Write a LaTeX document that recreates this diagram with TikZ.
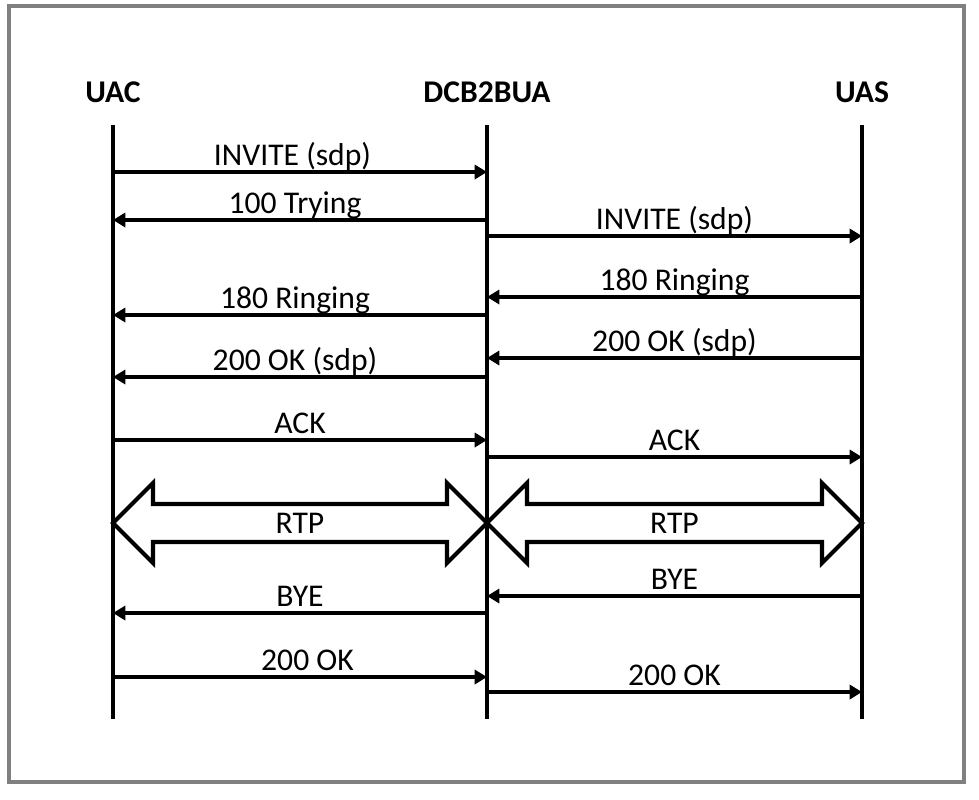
\documentclass[tikz,border=0pt]{standalone}
\usepackage{fontspec}
\setmainfont{Carlito}
\usetikzlibrary{arrows.meta,calc}

\begin{document}
\begin{tikzpicture}[x=0.02cm,y=-0.02cm,>={Triangle[length=7pt,width=8pt]},font=\fontsize{18}{21}\selectfont]
\tikzstyle{head}=[font=\fontsize{18}{21}\selectfont\bfseries,inner sep=0pt]
\tikzstyle{life}=[line width=2.8pt]
\tikzstyle{msg}=[->,line width=2.3pt]
\tikzstyle{lbl}=[above,inner sep=2.4pt,text depth=0pt]
\tikzstyle{rtp}=[line width=2.3pt,miter limit=20]
\useasboundingbox (0,0) rectangle (979,799);
\draw[black!50,line width=2.8pt] (9,6) rectangle (964,782);
% entities and lifelines
\node[head] (uac) at (113,92) {UAC};
\node[head] (b2b) at (487,92) {DCB2BUA};
\node[head] (uas) at (862,92) {UAS};
\draw[life] (uac |- 0,125) -- (uac |- 0,719);
\draw[life] (b2b |- 0,125) -- (b2b |- 0,719);
\draw[life] (uas |- 0,125) -- (uas |- 0,719);
% call setup
\draw[msg] (uac |- 0,172) -- node[lbl,xshift=-0.15cm]{INVITE (sdp)} (b2b |- 0,172);
\draw[msg] (b2b |- 0,220) -- node[lbl,xshift=-0.1cm]{100 Trying} (uac |- 0,220);
\draw[msg] (b2b |- 0,236) -- node[lbl]{INVITE (sdp)} (uas |- 0,236);
\draw[msg] (uas |- 0,297) -- node[lbl]{180 Ringing} (b2b |- 0,297);
\draw[msg] (b2b |- 0,315) -- node[lbl,xshift=-0.1cm]{180 Ringing} (uac |- 0,315);
\draw[msg] (uas |- 0,358) -- node[lbl]{200 OK (sdp)} (b2b |- 0,358);
\draw[msg] (b2b |- 0,377) -- node[lbl,xshift=-0.1cm]{200 OK (sdp)} (uac |- 0,377);
\draw[msg] (uac |- 0,440) -- node[lbl]{ACK} (b2b |- 0,440);
\draw[msg] (b2b |- 0,457) -- node[lbl]{ACK} (uas |- 0,457);
% media
\draw[rtp] (uac |- 0,523) -- ++(40,-40) -- ++(0,21) -- ++(294,0) -- ++(0,-21) -- ++(40,40) -- ++(-40,40) -- ++(0,-21) -- ++(-294,0) -- ++(0,21) -- cycle;
\draw[rtp] (b2b |- 0,523) -- ++(40,-40) -- ++(0,21) -- ++(295,0) -- ++(0,-21) -- ++(40,40) -- ++(-40,40) -- ++(0,-21) -- ++(-295,0) -- ++(0,21) -- cycle;
\node (rtp1) at ($(uac |- 0,523)!0.5!(b2b |- 0,523)$) {RTP};
\node (rtp2) at ($(b2b |- 0,523)!0.5!(uas |- 0,523)$) {RTP};
% teardown
\draw[msg] (uas |- 0,596) -- node[lbl]{BYE} (b2b |- 0,596);
\draw[msg] (b2b |- 0,613) -- node[lbl]{BYE} (uac |- 0,613);
\draw[msg] (uac |- 0,677) -- node[lbl,xshift=0.15cm]{200 OK} (b2b |- 0,677);
\draw[msg] (b2b |- 0,692) -- node[lbl]{200 OK} (uas |- 0,692);
\end{tikzpicture}
\end{document}
